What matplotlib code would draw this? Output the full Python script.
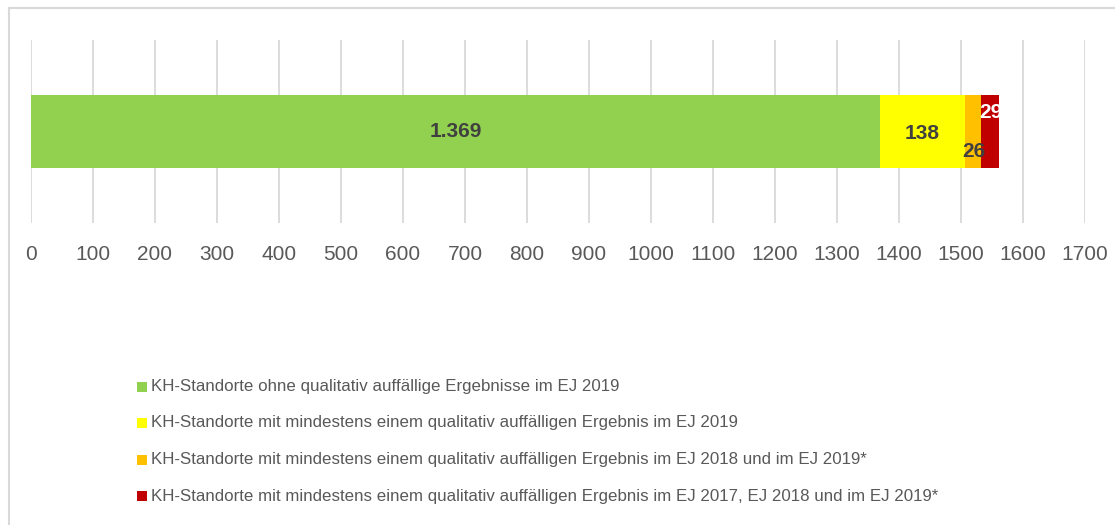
import matplotlib
matplotlib.use("Agg")
import matplotlib.pyplot as plt
from matplotlib.patches import Rectangle
from matplotlib.lines import Line2D

plt.rcParams['font.family'] = ['Liberation Sans', 'DejaVu Sans']

series_labels = [
    "KH-Standorte ohne qualitativ auffällige Ergebnisse im EJ 2019",
    "KH-Standorte mit mindestens einem qualitativ auffälligen Ergebnis im EJ 2019",
    "KH-Standorte mit mindestens einem qualitativ auffälligen Ergebnis im EJ 2018 und im EJ 2019*",
    "KH-Standorte mit mindestens einem qualitativ auffälligen Ergebnis im EJ 2017, EJ 2018 und im EJ 2019*",
]
values = [1369, 138, 26, 29]
value_texts = ["1.369", "138", "26", "29"]
colors = ["#92D050", "#FFFF00", "#FFC000", "#C00000"]
label_colors = ["#404040", "#404040", "#404040", "#FFFFFF"]
label_dy = [0.0, -0.01, -0.11, 0.105]   # vertical offsets of labels (axes units of y)
ticks = list(range(0, 1800, 100))

W, H = 1115, 525
fig = plt.figure(figsize=(W / 100, H / 100), dpi=100)
fig.patch.set_facecolor("white")

ax = fig.add_axes([31 / W, 1 - 223 / H, (1085 - 31) / W, (223 - 40) / H])
ax.set_xlim(0, 1700)
ax.set_ylim(-0.5, 0.5)

left = 0
for v, c, t, tc, dy in zip(values, colors, value_texts, label_colors, label_dy):
    ax.barh(0, v, left=left, height=0.4, color=c, zorder=3)
    ax.text(left + v / 2, dy, t, ha="center", va="center", fontsize=15,
            fontweight="bold", color=tc, zorder=4)
    left += v

ax.set_xticks(ticks)
ax.set_xticklabels([str(t) for t in ticks], fontsize=15, color="#595959")
ax.tick_params(axis="x", length=0, pad=16)
ax.set_yticks([])
ax.grid(axis="x", color="#D9D9D9", linewidth=1.3, zorder=0)
for s in ax.spines.values():
    s.set_visible(False)

# outer chart border (partially beyond the image)
fig.add_artist(Line2D([9 / W, 9 / W], [0, 1 - 8 / H], transform=fig.transFigure,
                      color="#D9D9D9", linewidth=1.5))
fig.add_artist(Line2D([9 / W, 1], [1 - 8 / H, 1 - 8 / H], transform=fig.transFigure,
                      color="#D9D9D9", linewidth=1.5))

# legend
rows_y = [387, 423, 459.5, 496]
for lbl, c, yy in zip(series_labels, colors, rows_y):
    fig.add_artist(Rectangle((137 / W, 1 - (yy + 5) / H), 10 / W, 10 / H,
                             transform=fig.transFigure, facecolor=c, edgecolor="none"))
    fig.text(151 / W, 1 - yy / H, lbl, ha="left", va="center", fontsize=12.2,
             color="#595959")

fig.savefig("out.png", dpi=100, facecolor="white")
